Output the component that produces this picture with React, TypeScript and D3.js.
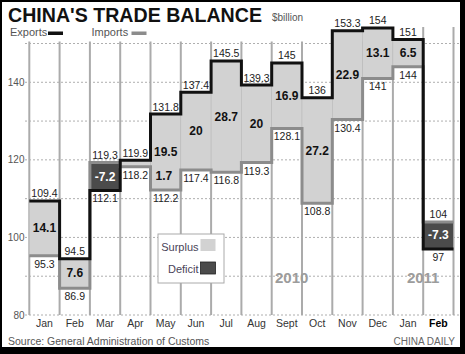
import * as d3 from 'd3';

const months = ['Jan', 'Feb', 'Mar', 'Apr', 'May', 'Jun', 'Jul', 'Aug', 'Sept', 'Oct', 'Nov', 'Dec', 'Jan', 'Feb'];
const exportsBn = [109.4, 94.5, 112.1, 119.9, 131.8, 137.4, 145.5, 139.3, 145, 136, 153.3, 154, 151, 97];
const importsBn = [95.3, 86.9, 119.3, 118.2, 112.2, 117.4, 116.8, 119.3, 128.1, 108.8, 130.4, 141, 144, 104];
const balanceBn = [14.1, 7.6, -7.2, 1.7, 19.5, 20, 28.7, 20, 16.9, 27.2, 22.9, 13.1, 6.5, -7.3];
const yTickLabels = [80, 100, 120, 140];
const gridValues = [80, 90, 100, 110, 120, 130, 140, 150];
const years = ['2010', '2011'];

const W = 465;
const H = 354;
const FONT = "'Liberation Sans', Arial, sans-serif";
const SURPLUS = '#d2d2d2';
const DEFICIT = '#4b4b4b';
const IMPORT_COL = '#8c8c8c';

export default function App() {
  const idx = d3.range(months.length);
  const x = d3.scaleBand<number>().domain(idx).range([29.3, 453.5]).padding(0);
  const y = d3.scaleLinear().domain([80, 150]).range([315, 43.5]);
  const bw = x.bandwidth();
  const right = x.range()[1];

  const stepLine = d3
    .line<[number, number]>()
    .x((d) => d[0])
    .y((d) => y(d[1]))
    .curve(d3.curveStepAfter);

  const pts = (vals: number[]): [number, number][] => [
    ...vals.map((v, i) => [x(i)!, v] as [number, number]),
    [right, vals[vals.length - 1]]
  ];

  // where the year tags sit: 2010 around Sept, 2011 on the Jan/Feb border
  const yearX = [x(8)! + bw * 0.66, x(13)!];

  return (
    <div style={{ position: 'fixed', left: 0, top: 0 }}>
      <svg width={W} height={H} style={{ display: 'block' }} fontFamily={FONT}>
        <rect width={W} height={H} fill="#000" />
        <rect x={2} y={2} width={458} height={345} fill="#fff" />

        <text x={8} y={21.5} fontSize={19.5} fontWeight="bold" fill="#111" textLength={254} lengthAdjust="spacingAndGlyphs">
          CHINA'S TRADE BALANCE
        </text>
        <text x={272} y={20.5} fontSize={10} fill="#555">$billion</text>

        <text x={10} y={36} fontSize={11} fill="#555">Exports</text>
        <rect x={48} y={31.5} width={15} height={3.5} fill="#111" />
        <text x={91.5} y={36} fontSize={11} fill="#555">Imports</text>
        <rect x={131.5} y={31.5} width={15} height={3.5} fill={IMPORT_COL} />

        {gridValues.map((v) => (
          <line key={v} x1={25} x2={460} y1={y(v)} y2={y(v)} stroke="#9a9a9a" strokeWidth={0.8} strokeDasharray="2 2" />
        ))}
        {yTickLabels.map((v) => (
          <text key={v} x={24.5} y={y(v) + 3.5} fontSize={10} fill="#555" textAnchor="end">{v}</text>
        ))}

        {[...idx, months.length].map((i) => {
          const xx = i === months.length ? right : x(i)!;
          return (
            <line key={i} x1={xx} x2={xx} y1={i >= 13 ? 27 : 41.5} y2={315} stroke="#ababab" strokeWidth={2} />
          );
        })}

        {idx.map((i) => {
          const top = y(Math.max(exportsBn[i], importsBn[i]));
          const bot = y(Math.min(exportsBn[i], importsBn[i]));
          return (
            <rect key={i} x={x(i)} y={top} width={bw} height={bot - top}
              fill={balanceBn[i] >= 0 ? SURPLUS : DEFICIT} stroke="#bcbcbc" strokeWidth={0.6} />
          );
        })}

        <path d={stepLine(pts(importsBn))!} fill="none" stroke={IMPORT_COL} strokeWidth={3} />
        <path d={stepLine(pts(exportsBn))!} fill="none" stroke="#111" strokeWidth={3} />

        {idx.map((i) => {
          const hi = Math.max(exportsBn[i], importsBn[i]);
          const lo = Math.min(exportsBn[i], importsBn[i]);
          const cx = x(i)! + bw / 2;
          const top = y(hi);
          const bot = y(lo);
          const small = bot - top < 14;
          return (
            <g key={i}>
              <text x={cx} y={top - 3.5} fontSize={10.5} fill="#222" textAnchor="middle">{hi}</text>
              <text x={cx} y={bot + 12} fontSize={10.5} fill="#222" textAnchor="middle">{lo}</text>
              {small ? (
                <text x={x(i)! + bw + 5} y={bot + 13} fontSize={12} fontWeight="bold" fill="#111">
                  {balanceBn[i]}
                </text>
              ) : (
                <text x={cx} y={(top + bot) / 2 + 4} fontSize={12} fontWeight="bold"
                  fill={balanceBn[i] >= 0 ? '#111' : '#fff'} textAnchor="middle">
                  {balanceBn[i]}
                </text>
              )}
            </g>
          );
        })}

        <rect x={158} y={234} width={66} height={49} fill="#fff" stroke="#aaa" strokeWidth={1} />
        <text x={198.5} y={251} fontSize={11} fill="#4a4458" textAnchor="end">Surplus</text>
        <rect x={200.5} y={239} width={15} height={12} fill={SURPLUS} />
        <text x={198.5} y={273} fontSize={11} fill="#4a4458" textAnchor="end">Deficit</text>
        <rect x={200.5} y={262} width={15} height={12} fill={DEFICIT} stroke="#222" strokeWidth={0.8} />

        {years.map((yr, k) => (
          <text key={yr} x={yearX[k]} y={283} fontSize={15} fontWeight="bold" fill="#9c9c9c" textAnchor="middle">{yr}</text>
        ))}

        {idx.map((i) => (
          <text key={i} x={x(i)! + bw / 2} y={327} fontSize={10.5} textAnchor="middle"
            fill={i === months.length - 1 ? '#000' : '#333'} fontWeight={i === months.length - 1 ? 'bold' : 'normal'}>
            {months[i]}
          </text>
        ))}

        <text x={8} y={344.5} fontSize={10.5} fill="#555">Source: General Administration of Customs</text>
        <text x={455} y={344.5} fontSize={10} fill="#666" textAnchor="end">CHINA DAILY</text>
      </svg>
    </div>
  );
}
